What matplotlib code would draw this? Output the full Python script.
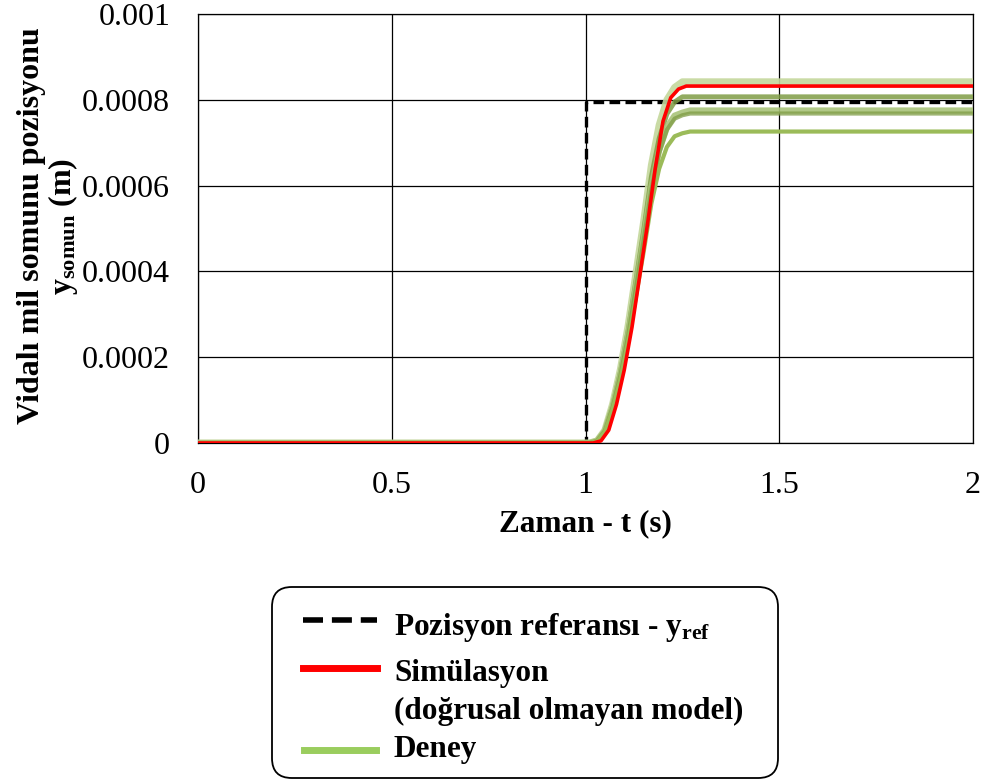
import matplotlib
matplotlib.use("Agg")
import matplotlib.pyplot as plt
from matplotlib.lines import Line2D
from matplotlib.patches import FancyBboxPatch

plt.rcParams['font.family'] = ['Liberation Serif', 'DejaVu Serif']
plt.rcParams['mathtext.fontset'] = 'custom'
plt.rcParams['mathtext.rm'] = 'Liberation Serif:bold'
plt.rcParams['mathtext.it'] = 'Liberation Serif:bold'
plt.rcParams['mathtext.bf'] = 'Liberation Serif:bold'

# Position reference (step at t = 1 s)
t_ref = [0.0, 1.0, 1.0, 2.0]
y_ref = [0.0, 0.0, 0.000795, 0.000795]

# Simulation (nonlinear model)
t_sim = [0.0, 1.00, 1.02, 1.04, 1.06, 1.08, 1.10, 1.12, 1.14, 1.16, 1.18,
         1.20, 1.22, 1.24, 1.26, 2.0]
y_sim = [0.0, 0.0, 0.0, 0.000005, 0.00003, 0.00009, 0.00017, 0.00027,
         0.00039, 0.00051, 0.00064, 0.00075, 0.000805, 0.000825, 0.000832,
         0.000832]

# Experimental runs
t_exp = [0.0, 1.00, 1.01, 1.03, 1.05, 1.07, 1.09, 1.11, 1.13, 1.15, 1.17,
         1.19, 1.21, 1.23, 1.25, 1.27, 2.0]
y_exp1 = [0.0, 0.0, 0.0, 0.000005, 0.00003, 0.000091, 0.000172, 0.000274,
          0.000395, 0.000516, 0.000648, 0.000741, 0.0008, 0.000829,
          0.000842, 0.000842, 0.000842]
y_exp2 = [0.0, 0.0, 0.0, 0.000005, 0.000029, 0.000087, 0.000165, 0.000262,
          0.000378, 0.000495, 0.000621, 0.00071, 0.000767, 0.000795,
          0.000807, 0.000807, 0.000807]
y_exp3 = [0.0, 0.0, 0.0, 0.000005, 0.000028, 0.000084, 0.000158, 0.000252,
          0.000363, 0.000475, 0.000596, 0.000682, 0.000736, 0.000763,
          0.00077, 0.000775, 0.000775]
y_exp4 = [0.0, 0.0, 0.0, 0.000005, 0.000028, 0.000083, 0.000157, 0.00025,
          0.00036, 0.000471, 0.00059, 0.000676, 0.00073, 0.000756,
          0.000764, 0.000768, 0.000768]
y_exp5 = [0.0, 0.0, 0.0, 0.000004, 0.000026, 0.000078, 0.000148, 0.000236,
          0.00034, 0.000445, 0.000558, 0.000639, 0.00069, 0.000715,
          0.000722, 0.000726, 0.000726]

x_ticks = [0, 0.5, 1, 1.5, 2]
x_tick_labels = ["0", "0.5", "1", "1.5", "2"]
y_ticks = [0, 0.0002, 0.0004, 0.0006, 0.0008, 0.001]
y_tick_labels = ["0", "0.0002", "0.0004", "0.0006", "0.0008", "0.001"]

exp_styles = [
    (y_exp1, '#c4d79b', 5.0, 0.9),
    (y_exp2, '#7f9c45', 3.5, 0.85),
    (y_exp3, '#a9c47a', 4.5, 0.9),
    (y_exp4, '#7f9c45', 3.0, 0.75),
    (y_exp5, '#9bbb59', 3.0, 1.0),
]

W, H = 989, 782


def fx(px):
    return px / W


def fy(py):
    return 1 - py / H


fig = plt.figure(figsize=(W / 100, H / 100), dpi=100)
ax = fig.add_axes([fx(198), fy(443), 775 / W, 429 / H])

ax.plot(t_ref, y_ref, color='black', lw=2.4, ls=(0, (3.2, 1.6)), zorder=3)
for ys, c, lw, a in exp_styles:
    ax.plot(t_exp, ys, color=c, lw=lw, alpha=a, solid_capstyle='butt', zorder=4)
ax.plot(t_sim, y_sim, color='#ff0000', lw=2.6, zorder=5)

ax.set_xlim(0, 2)
ax.set_ylim(0, 0.001)
ax.set_xticks(x_ticks)
ax.set_xticklabels(x_tick_labels)
ax.set_yticks(y_ticks)
ax.set_yticklabels(y_tick_labels)
ax.tick_params(axis='both', length=0, labelsize=23)
ax.tick_params(axis='x', pad=20)
ax.tick_params(axis='y', pad=20)
ax.grid(True, color='black', lw=0.9)
ax.set_axisbelow(True)
for s in ax.spines.values():
    s.set_color('black')
    s.set_linewidth(0.9)

ax.set_xlabel('Zaman - t (s)', fontsize=22.5, fontweight='bold', labelpad=7)

fig.text(fx(49), fy(226),
         'Vidalı mil somunu pozisyonu\n$\\mathregular{y_{somun}}$ (m)',
         rotation=90, ha='center', va='center', multialignment='center',
         fontsize=23, fontweight='bold', linespacing=1.0)

# Legend box with rounded corners
box = FancyBboxPatch((fx(272), fy(778)), fx(778) - fx(272), fy(587) - fy(778),
                     boxstyle='round,pad=0,rounding_size=0.02',
                     transform=fig.transFigure, facecolor='white',
                     edgecolor='black', lw=1.3, mutation_aspect=W / H)
fig.add_artist(box)

leg_fs = 22.5
fig.add_artist(Line2D([fx(303), fx(377)], [fy(620), fy(620)],
                      transform=fig.transFigure, color='black', lw=4,
                      ls=(0, (3.6, 1.6))))
fig.add_artist(Line2D([fx(303), fx(377)], [fy(668), fy(668)],
                      transform=fig.transFigure, color='#ff0000', lw=5))
fig.add_artist(Line2D([fx(304), fx(376)], [fy(750), fy(750)],
                      transform=fig.transFigure, color='#9acd5e', lw=5))

fig.text(fx(394), fy(628), 'Pozisyon referansı - $\\mathregular{y_{ref}}$',
         ha='left', va='center', fontsize=leg_fs, fontweight='bold')
fig.text(fx(394), fy(673), 'Simülasyon',
         ha='left', va='center', fontsize=leg_fs, fontweight='bold')
fig.text(fx(394), fy(711), '(doğrusal olmayan model)',
         ha='left', va='center', fontsize=leg_fs, fontweight='bold')
fig.text(fx(394), fy(749), 'Deney',
         ha='left', va='center', fontsize=leg_fs, fontweight='bold')

fig.savefig('out.png', dpi=100)
